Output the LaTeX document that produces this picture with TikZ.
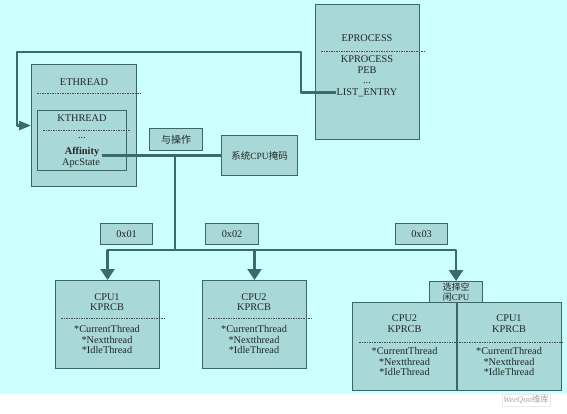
\documentclass[tikz,border=0pt]{standalone}
\usepackage{fontspec}
\setmainfont{Liberation Serif}
\newfontfamily\cjk{Noto Sans CJK SC}
\usetikzlibrary{arrows.meta}
\definecolor{bgc}{HTML}{CCFFFF}
\definecolor{boxc}{HTML}{A8D8D8}
\definecolor{edgec}{HTML}{3F6666}
\definecolor{connc}{HTML}{3A6C6C}
\tikzset{
  box/.style={draw=edgec, fill=boxc, line width=1.1pt, inner sep=0pt, anchor=north west},
  txt/.style={inner sep=0pt, font=\fontsize{10.3}{10.6}\selectfont, align=center, text=black!85},
  cjktxt/.style={inner sep=0pt, font=\cjk\fontsize{9.5}{10}\selectfont, align=center, text=black!85},
  dsh/.style={draw=black!70, dash pattern=on 1.5pt off 1pt, line width=0.5pt},
  conn/.style={draw=connc, line width=2.5pt, line join=round},
  tipd/.style={-{Triangle[width=14pt,length=11pt]}},
  tipl/.style={-{Triangle[width=9pt,length=12pt]}}
}
\begin{document}
\begin{tikzpicture}[x=1pt,y=-1pt]
\useasboundingbox (0,0) rectangle (567,413);
\fill[bgc] (0,0) rectangle (567,394);

% ETHREAD / KTHREAD
\node[box, minimum width=105pt, minimum height=122pt] (eth) at (31,64) {};
\node[txt] (ethT) at (84,82) {ETHREAD};
\draw[dsh] (37,93) -- (141,93);
\node[box, minimum width=89pt, minimum height=60pt] (kth) at (37,110) {};
\node[txt] (kthT) at (82,118) {KTHREAD};
\draw[dsh] (43,130) -- (130,130);
\node[txt] (kdots) at (82,138.5) {...};
\node[txt, font=\fontsize{10.3}{10.6}\selectfont\bfseries] (aff) at (82,152) {Affinity};
\node[txt] (apc) at (81,163.5) {ApcState};

% EPROCESS
\node[box, minimum width=104pt, minimum height=135pt] (epr) at (315,4) {};
\node[txt] (eprT) at (367,38) {EPROCESS};
\draw[dsh] (321,51) -- (425,51);
\node[txt, anchor=north] (kpr) at (367,55.5) {KPROCESS\\PEB\\...};
\node[txt] (le) at (367,92.5) {LIST\_ENTRY};

% operation boxes
\node[box, minimum width=53pt, minimum height=22pt] (andop) at (149,128) {};
\node[cjktxt, font=\cjk\fontsize{10}{10}\selectfont] at (andop.center) {与操作};
\node[box, minimum width=76pt, minimum height=40pt] (mask) at (221,135) {};
\node[cjktxt] at (mask.center) {系统{\fontspec{Liberation Serif}CPU}掩码};

% mask labels
\node[box, minimum width=52pt, minimum height=21pt] (m1) at (100,223) {};
\node[txt] at (m1.center) {0x01};
\node[box, minimum width=53pt, minimum height=21pt] (m2) at (205,223) {};
\node[txt] at (m2.center) {0x02};
\node[box, minimum width=52pt, minimum height=21pt] (m3) at (395,223) {};
\node[txt] at (m3.center) {0x03};

% CPU1
\node[box, minimum width=104pt, minimum height=88pt] (cpu1) at (55,280) {};
\node[txt] (c1a) at (107,302) {CPU1\\KPRCB};
\draw[dsh] (61,318) -- (164,318);
\node[txt] (c1b) at (107,339.5) {*CurrentThread\\*Nextthread\\*IdleThread};

% CPU2
\node[box, minimum width=104pt, minimum height=88pt] (cpu2) at (202,280) {};
\node[txt] (c2a) at (254,302) {CPU2\\KPRCB};
\draw[dsh] (208,318) -- (311,318);
\node[txt] (c2b) at (254,339.5) {*CurrentThread\\*Nextthread\\*IdleThread};

% select idle CPU
\node[box, minimum width=53pt, minimum height=21pt] (sel) at (429,281) {};
\node[cjktxt, font=\cjk\fontsize{9}{9.8}\selectfont] at (sel.center) {选择空\\闲{\fontspec{Liberation Serif}CPU}};
\node[box, minimum width=209pt, minimum height=88pt] (pair) at (352,302) {};
\draw[draw=edgec, line width=1.1pt] (457,302) -- (457,390);
\node[txt] (p2a) at (404.5,323.5) {CPU2\\KPRCB};
\draw[dsh] (359,342) -- (562,342);
\node[txt] (p2b) at (404.5,361.5) {*CurrentThread\\*Nextthread\\*IdleThread};
\node[txt] (p1a) at (509,323.5) {CPU1\\KPRCB};
\node[txt] (p1b) at (509,361.5) {*CurrentThread\\*Nextthread\\*IdleThread};

% connectors
\draw[conn, tipl] (le.west) -| (301,52) -| ([xshift=-14pt]eth.west) -- (eth.west);
\draw[conn] ([xshift=3pt]aff.east |- mask.west) -- (mask.west);
\coordinate (j1) at (175,155);
\coordinate (j2) at (175,250);
\draw[conn] (j1) -- (j2);
\draw[conn, tipd] (j2) -| (cpu1.north);
\draw[conn, tipd] (j2) -| (sel.north);
\draw[conn, tipd] (cpu2.north |- j2) -- (cpu2.north);

% watermark
\node[draw=black!8, fill=white, inner sep=1.5pt, font=\fontsize{8.5}{9}\selectfont\itshape, text=black!35] (wm) at (526,400) {WeeQoo{\cjk\upshape 维库}};
\end{tikzpicture}
\end{document}
